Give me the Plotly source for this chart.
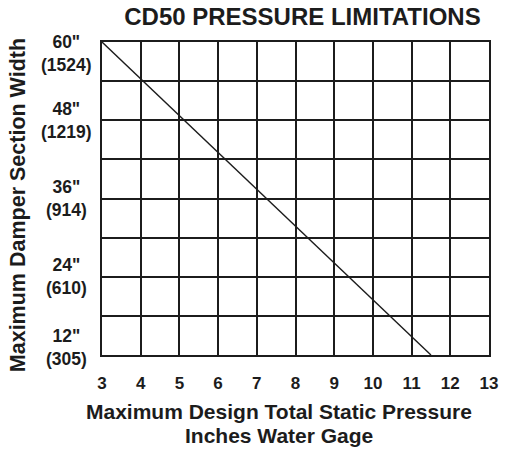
import plotly.graph_objects as go

# Pressure limit: damper width (inches) vs. max total static pressure (in. w.g.)
pressure_in_wg = [3, 11.5]
damper_width_in = [60, 12]

x_ticks = [3, 4, 5, 6, 7, 8, 9, 10, 11, 12, 13]
y_ticks = [12, 24, 36, 48, 60]
y_tick_inches = ['12"', '24"', '36"', '48"', '60"']
y_tick_mm = ['(305)', '(610)', '(914)', '(1219)', '(1524)']

FONT = "Liberation Sans"
INK = "#1c1c1c"

fig = go.Figure()
fig.add_trace(go.Scatter(
    x=pressure_in_wg, y=damper_width_in, mode="lines",
    line=dict(color=INK, width=1.4), showlegend=False, hoverinfo="skip",
))

# y tick labels: two centred lines (inches over millimetres)
label_shift = {60: -11, 12: 8}
for v, a, b in zip(y_ticks, y_tick_inches, y_tick_mm):
    fig.add_annotation(
        x=-0.091, xref="paper", y=v, yref="y",
        text=f"{a}<br>{b}", showarrow=False, align="center",
        xanchor="center", yanchor="middle", yshift=label_shift.get(v, 0),
        font=dict(family=FONT, size=17.5, color=INK, weight="bold"),
    )

# x axis title, one annotation per line for tight line spacing
x_title_lines = ["Maximum Design Total Static Pressure", "Inches Water Gage"]
for i, line in enumerate(x_title_lines):
    fig.add_annotation(
        x=0.458, xref="paper", y=-0.181 - i * 0.077, yref="paper",
        text=line, showarrow=False, xanchor="center", yanchor="middle",
        font=dict(family=FONT, size=21, color=INK, weight="bold"),
    )

fig.add_annotation(
    x=-0.215, xref="paper", y=0.478, yref="paper", textangle=-90,
    text="Maximum Damper Section Width",
    showarrow=False, xanchor="center", yanchor="middle",
    font=dict(family=FONT, size=21.5, color=INK, weight="bold"),
)

fig.update_layout(
    width=509, height=452,
    margin=dict(l=102, r=11, t=42, b=97),
    paper_bgcolor="white", plot_bgcolor="white",
    title=dict(
        text="CD50 PRESSURE LIMITATIONS", x=0.518, xref="paper",
        y=0.963, yref="container", xanchor="center", yanchor="middle",
        font=dict(family=FONT, size=24, color=INK, weight="bold"),
    ),
    xaxis=dict(
        range=[3, 13], tickvals=x_ticks, showgrid=True, gridcolor=INK, gridwidth=1.5,
        showline=True, linecolor=INK, linewidth=1.5, mirror=True, zeroline=False,
        ticks="outside", ticklen=12, tickcolor="rgba(0,0,0,0)",
        tickfont=dict(family=FONT, size=17, color=INK, weight="bold"),
    ),
    yaxis=dict(
        range=[12, 60], tick0=12, dtick=6, showgrid=True, gridcolor=INK, gridwidth=1.5,
        showline=True, linecolor=INK, linewidth=1.5, mirror=True, zeroline=False,
        showticklabels=False, ticks="",
    ),
)

fig.write_html("out.html")
